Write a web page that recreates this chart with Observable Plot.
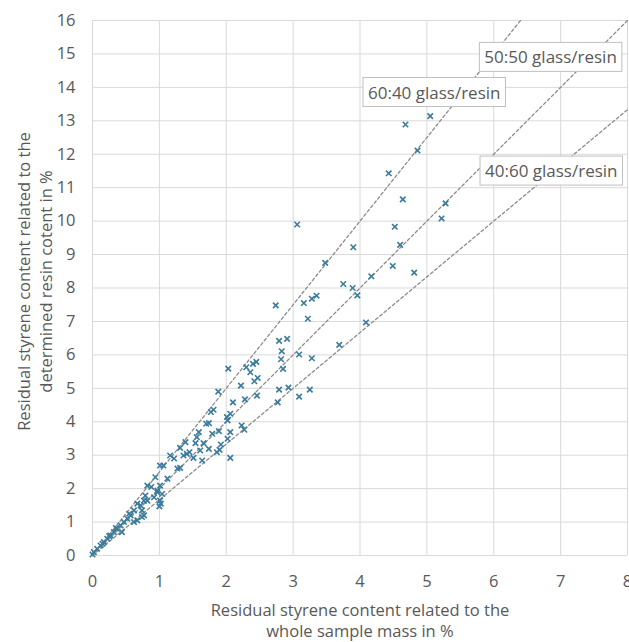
<!DOCTYPE html>
<html>
<head>
<meta charset="utf-8">
<script src="https://cdn.jsdelivr.net/npm/d3@7"></script>
<script src="https://cdn.jsdelivr.net/npm/@observablehq/plot@0.6"></script>
<style>
  body { margin: 0; background: #fff; }
  #chart svg { display: block; }
</style>
</head>
<body>
<div id="chart"></div>
<script>
// Residual styrene content: x = related to whole sample mass (%), y = related to resin content (%)
const xValues = [
  5.05, 4.68, 4.86, 4.43, 4.64, 5.28, 5.22, 4.52, 3.06, 3.90, 4.60, 3.48, 4.49, 4.81, 4.17,
  3.75, 3.89, 3.96, 2.74, 3.16, 3.28, 3.35, 3.22, 4.09, 3.69, 2.79, 2.91, 2.83, 3.09, 2.82,
  3.28, 2.85, 2.79, 2.93, 3.25, 3.09, 2.77, 2.03, 2.30, 2.40, 2.45, 2.36, 2.47, 2.42, 2.22,
  2.10, 2.28, 2.46, 2.01, 2.06,
  1.88, 1.77, 1.81, 2.02, 1.70, 1.74, 2.23, 2.27, 1.59, 1.89, 2.06, 1.56, 1.79, 2.02, 1.39,
  1.54, 1.66, 1.92, 1.31, 1.41, 1.36, 1.45, 1.61, 1.74, 1.86, 1.90, 2.06, 1.16, 1.51, 1.64,
  1.06, 1.31,
  1.01, 0.94, 1.01, 0.97, 1.04, 0.92, 1.02, 0.82, 0.77, 0.72, 0.67, 0.62, 0.74, 0.77, 0.57,
  0.52, 0.47, 0.62, 0.42, 0.37, 0.32, 0.44, 0.27, 0.22, 0.17, 0.12, 0.07, 0.02, 0.00, 0.79,
  1.01, 0.82, 0.67, 0.74, 1.00, 0.97, 1.22, 1.27, 1.12, 0.88, 0.55, 0.35, 0.25, 0.15
];
const yValues = [
  13.14, 12.89, 12.11, 11.43, 10.65, 10.53, 10.08, 9.83, 9.90, 9.22, 9.29, 8.75, 8.66, 8.46, 8.35,
  8.12, 8.00, 7.78, 7.48, 7.55, 7.68, 7.77, 7.08, 6.97, 6.30, 6.42, 6.48, 6.11, 6.01, 5.87,
  5.90, 5.58, 4.96, 5.02, 4.96, 4.75, 4.58, 5.59, 5.63, 5.73, 5.79, 5.48, 5.31, 5.21, 5.08,
  4.58, 4.67, 4.78, 4.14, 4.24,
  4.90, 4.29, 4.36, 4.04, 3.94, 3.96, 3.89, 3.76, 3.69, 3.72, 3.69, 3.54, 3.64, 3.49, 3.39,
  3.36, 3.36, 3.32, 3.22, 3.04, 2.99, 3.09, 3.14, 3.19, 3.09, 3.16, 2.92, 2.99, 2.92, 2.84,
  2.69, 2.62,
  2.69, 2.34, 2.09, 1.89, 1.84, 1.74, 1.55, 2.09, 1.64, 1.50, 1.55, 1.35, 1.35, 1.20, 1.20,
  1.10, 1.00, 1.00, 0.90, 0.80, 0.70, 0.70, 0.60, 0.50, 0.40, 0.30, 0.20, 0.10, 0.03, 1.79,
  1.64, 1.64, 1.05, 1.15, 1.47, 1.94, 2.90, 2.60, 2.30, 2.05, 1.25, 0.82, 0.58, 0.35
];

// Reference lines: glass/resin ratios (resin fraction of sample mass)
const ratioLabels = ["60:40 glass/resin", "50:50 glass/resin", "40:60 glass/resin"];
const resinFractions = [0.4, 0.5, 0.6];
const labelX = [5.11, 6.85, 6.86];
const labelY = [13.83, 14.88, 11.48];

const xTicks = [0, 1, 2, 3, 4, 5, 6, 7, 8];
const yTicks = [0, 1, 2, 3, 4, 5, 6, 7, 8, 9, 10, 11, 12, 13, 14, 15, 16];
const xTitle = "Residual styrene content related to the\nwhole sample mass in %";
const yTitle = "Residual styrene content related to the\ndetermined resin cotent in %";

const xMax = 8, yMax = 16;
const points = xValues.map((x, i) => ({x, y: yValues[i]}));
const refLines = [];
resinFractions.forEach((f, i) => {
  const xEnd = Math.min(xMax, yMax * f);
  refLines.push({series: ratioLabels[i], x: 0, y: 0});
  refLines.push({series: ratioLabels[i], x: xEnd, y: xEnd / f});
});
const labels = ratioLabels.map((t, i) => ({text: t, x: labelX[i], y: labelY[i]}));

const font = "'Open Sans', 'DejaVu Sans', sans-serif";
const textColor = "#595959";

const plot = Plot.plot({
  width: 629,
  height: 642,
  marginLeft: 92,
  marginRight: 2,
  marginTop: 20,
  marginBottom: 87,
  style: {fontFamily: font, fontSize: "16px", color: textColor, background: "#fff", overflow: "visible"},
  x: {domain: [0, xMax], ticks: xTicks, label: null},
  y: {domain: [0, yMax], ticks: yTicks, label: null},
  marks: [
    Plot.gridX(xTicks, {stroke: "#d9d9d9", strokeOpacity: 1, strokeWidth: 1}),
    Plot.gridY(yTicks, {stroke: "#d9d9d9", strokeOpacity: 1, strokeWidth: 1}),
    Plot.axisX(xTicks, {tickSize: 0, tickPadding: 20, fontSize: 16.5, fill: textColor}),
    Plot.axisY(yTicks, {tickSize: 0, tickPadding: 17, fontSize: 16.5, fill: textColor}),
    Plot.line(refLines, {x: "x", y: "y", z: "series", stroke: "#8c8c8c", strokeWidth: 1.3, strokeDasharray: "3,2.5"}),
    Plot.dot(points, {x: "x", y: "y", symbol: "times", r: 2.6, stroke: "#3b7b9c", strokeWidth: 1.6}),
    Plot.text(labels, {x: "x", y: "y", text: "text", fontSize: 17, fill: textColor}),
    Plot.text([xTitle], {frameAnchor: "bottom", textAnchor: "middle", lineAnchor: "middle", dy: 64.5, fontSize: 16.5, lineHeight: 1.25, fill: textColor}),
    Plot.text([yTitle], {frameAnchor: "left", textAnchor: "middle", lineAnchor: "middle", dx: -59, dy: -6.5, rotate: -90, fontSize: 16.5, lineHeight: 1.33, fill: textColor})
  ]
});

document.getElementById("chart").appendChild(plot);

// Boxes behind the ratio labels
const textGroups = plot.querySelectorAll('g[aria-label="text"]');
if (textGroups.length) {
  const g = textGroups[0];
  g.querySelectorAll("text").forEach(t => {
    const b = t.getBBox();
    const rect = document.createElementNS("http://www.w3.org/2000/svg", "rect");
    rect.setAttribute("x", b.x - 5);
    rect.setAttribute("y", b.y - 3);
    rect.setAttribute("width", b.width + 10);
    rect.setAttribute("height", b.height + 6);
    rect.setAttribute("fill", "#fff");
    rect.setAttribute("stroke", "#bfbfbf");
    rect.setAttribute("stroke-width", 1);
    const tr = t.getAttribute("transform");
    if (tr) rect.setAttribute("transform", tr);
    g.insertBefore(rect, t);
  });
}
</script>
</body>
</html>
